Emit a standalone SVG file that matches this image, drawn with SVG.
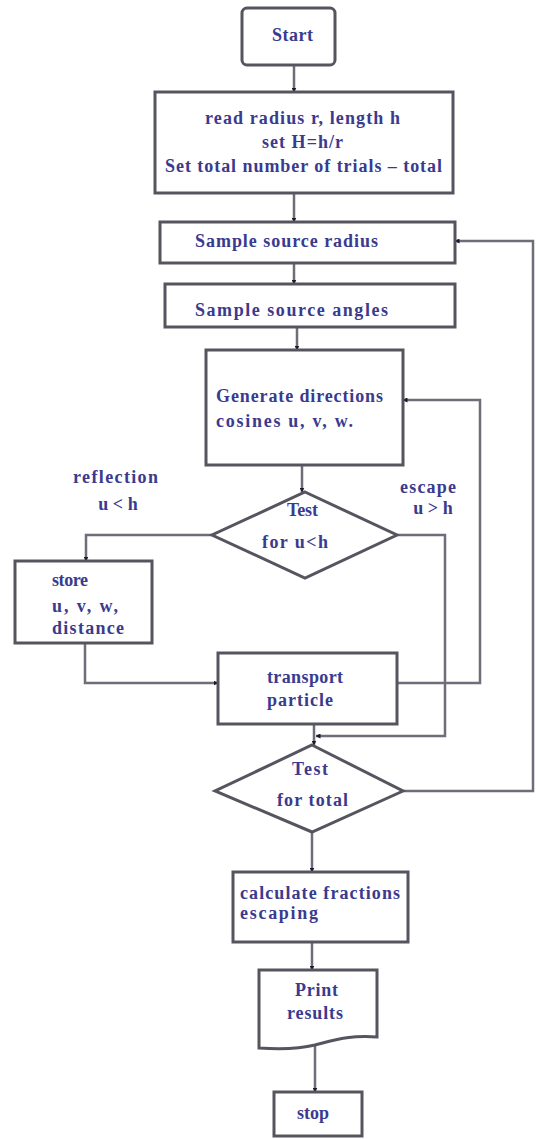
<svg xmlns="http://www.w3.org/2000/svg" width="537" height="1139" viewBox="0 0 537 1139">
<style>
.n{fill:#fff;stroke:#55555f;stroke-width:3}
.c{fill:none;stroke:#6e6e7a;stroke-width:2.5}
text{font-family:"Liberation Serif","Times New Roman",serif;font-weight:bold;font-size:18px;fill:#3a3a8e}
</style>
<defs>
<marker id="a" viewBox="0 0 10 10" refX="9" refY="5" markerWidth="5" markerHeight="5" orient="auto" markerUnits="userSpaceOnUse">
<path d="M0,0 L10,5 L0,10 z" fill="#1a1a2a"/>
</marker>
</defs>
<rect width="537" height="1139" fill="#fff"/>
<g id="connectors">
<path class="c" d="M294,65 V92" marker-end="url(#a)"/>
<path class="c" d="M294,193 V222" marker-end="url(#a)"/>
<path class="c" d="M294,263 V284" marker-end="url(#a)"/>
<path class="c" d="M297,327 V350" marker-end="url(#a)"/>
<path class="c" d="M302,465 V492" marker-end="url(#a)"/>
<path class="c" d="M212,535 H86 V561" marker-end="url(#a)"/>
<path class="c" d="M85,643 V683 H218" marker-end="url(#a)"/>
<path class="c" d="M397,683 H480 V400 H403" marker-end="url(#a)"/>
<path class="c" d="M397,535 H445 V736 H316" marker-end="url(#a)"/>
<path class="c" d="M314,724 V745" marker-end="url(#a)"/>
<path class="c" d="M403,791 H533 V241 H455" marker-end="url(#a)"/>
<path class="c" d="M312,832 V872" marker-end="url(#a)"/>
<path class="c" d="M312,942 V970" marker-end="url(#a)"/>
<path class="c" d="M315,1046 V1092" marker-end="url(#a)"/>
</g>
<g id="start"><rect class="n" x="242" y="8" width="93" height="57" rx="5"/><text x="272" y="41" textLength="41">Start</text></g>
<g id="init"><rect class="n" x="155" y="92" width="298" height="101"/>
<text x="205" y="124" textLength="195">read radius r, length h</text>
<text x="262" y="148" textLength="81">set H=h/r</text>
<text x="165" y="172" textLength="277">Set total number of trials – total</text></g>
<g id="radius"><rect class="n" x="160" y="222" width="295" height="41"/><text x="195" y="247" textLength="183">Sample source radius</text></g>
<g id="angles"><rect class="n" x="165" y="284" width="290" height="43"/><text x="195" y="316" textLength="193">Sample source angles</text></g>
<g id="generate"><rect class="n" x="206" y="350" width="197" height="115"/>
<text x="216" y="402" textLength="167">Generate directions</text>
<text x="216" y="427" textLength="137">cosines u, v, w.</text></g>
<g id="test1"><path class="n" d="M305,492 L397,535 L305,578 L212,535 Z"/>
<text x="287" y="516" textLength="31">Test</text>
<text x="262" y="548" textLength="66">for u&lt;h</text></g>
<g id="lbl-reflect"><text x="73" y="483" textLength="85">reflection</text><text x="118" y="510" text-anchor="middle">u &lt; h</text></g>
<g id="lbl-escape"><text x="400" y="493" textLength="56">escape</text><text x="433" y="514" text-anchor="middle">u &gt; h</text></g>
<g id="store"><rect class="n" x="15" y="561" width="137" height="82"/>
<text x="52" y="586" textLength="36">store</text>
<text x="52" y="612" textLength="66">u, v, w,</text>
<text x="52" y="634" textLength="72">distance</text></g>
<g id="transport"><rect class="n" x="218" y="653" width="179" height="71"/>
<text x="267" y="683" textLength="76">transport</text>
<text x="267" y="706" textLength="66">particle</text></g>
<g id="test2"><path class="n" d="M312,745 L403,791 L312,832 L215,791 Z"/>
<text x="292" y="775" textLength="36">Test</text>
<text x="277" y="806" textLength="71">for total</text></g>
<g id="calc"><rect class="n" x="233" y="872" width="175" height="70"/>
<text x="240" y="899" textLength="160">calculate fractions</text>
<text x="240" y="919" textLength="78">escaping</text></g>
<g id="print"><path class="n" d="M259,970 H377 V1037 C350,1035 335,1040 315,1045 C295,1050 275,1049 259,1048 Z"/>
<text x="295" y="996" textLength="43">Print</text>
<text x="287" y="1019" textLength="56">results</text></g>
<g id="stop"><rect class="n" x="274" y="1092" width="88" height="44"/><text x="313" y="1119" text-anchor="middle">stop</text></g>
</svg>
